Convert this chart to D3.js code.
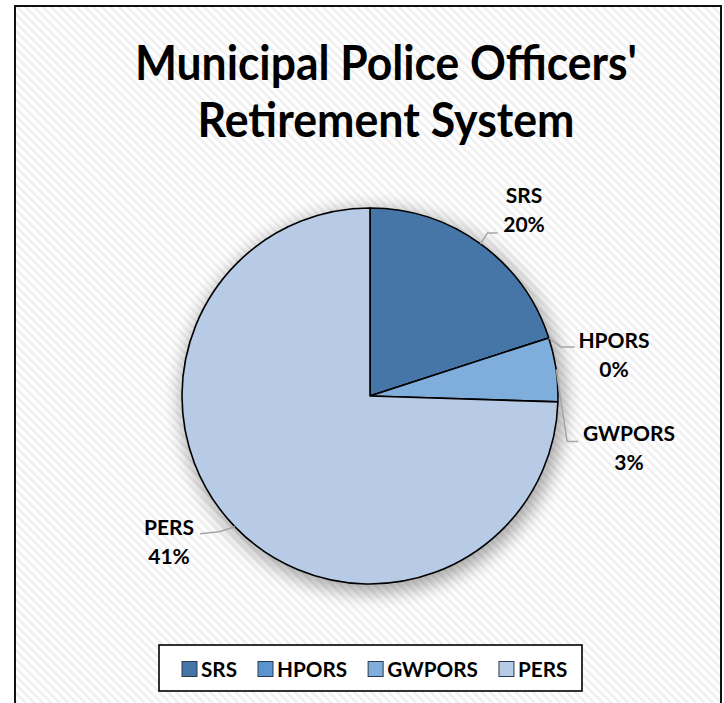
<!DOCTYPE html>
<html><head><meta charset="utf-8">
<script src="https://cdn.jsdelivr.net/npm/d3@7"></script>
<style>
html,body{margin:0;padding:0;background:#fff;}
svg{display:block;}
text{font-family:Lato,"Open Sans",sans-serif;font-weight:bold;fill:#000;}
</style></head>
<body>
<svg id="chart" width="724" height="703"></svg>
<script>
// ---- data ----
const titleLines = ["Municipal Police Officers'", "Retirement System"];
const categories = ["SRS", "HPORS", "GWPORS", "PERS"];
const sliceShares = [20, 0, 5.5, 74.5];          // share of the circle
const labelTexts = ["20%", "0%", "3%", "41%"];   // data labels as printed on the chart
const colors = ["#4676A8", "#5B95D0", "#80AEDC", "#B7CBE7"];

// ---- layout ----
const W = 724, H = 703;
const cx = 370, cy = 396, R = 188;
const labelLayout = [
  {bend:[7,-11], end:[17,-11], tx:524, ty:196},
  {bend:[12,9], end:[26,9], tx:614, ty:341},
  {bend:[11,72], end:[22,72], tx:629, ty:434},
  {bend:[-16,5], end:[-35,7], tx:169, ty:528}
];

const svg = d3.select("#chart");
const defs = svg.append("defs");
const pat = defs.append("pattern").attr("id","stripes").attr("patternUnits","userSpaceOnUse")
  .attr("width",6).attr("height",6).attr("patternTransform","rotate(-45)");
pat.append("rect").attr("width",6).attr("height",6).attr("fill","#ffffff");
pat.append("rect").attr("x",0).attr("y",0).attr("width",2.4).attr("height",6).attr("fill","#efefef");

const blur = defs.append("filter").attr("id","shadow").attr("x","-30%").attr("y","-30%").attr("width","160%").attr("height","160%");
blur.append("feGaussianBlur").attr("stdDeviation",9);

// background + frame
svg.append("rect").attr("x",0).attr("y",0).attr("width",W).attr("height",H).attr("fill","#fff");
svg.append("rect").attr("x",15).attr("y",6).attr("width",706).attr("height",720)
  .attr("fill","url(#stripes)").attr("stroke","#111").attr("stroke-width",2);

// title
const title = svg.append("g");
const titleWidths = [502, 377];
titleLines.forEach((t,i)=>{
  title.append("text").attr("x",386).attr("y",80 + i*57).attr("text-anchor","middle")
    .attr("font-size",47).attr("textLength",titleWidths[i]).attr("lengthAdjust","spacingAndGlyphs").text(t);
});

// pie
const pie = d3.pie().sort(null).value(d=>d)(sliceShares);
const arc = d3.arc().innerRadius(0).outerRadius(R);
const g = svg.append("g").attr("transform",`translate(${cx},${cy})`);
g.append("circle").attr("cx",3).attr("cy",5).attr("r",R+4).attr("fill","#000").attr("opacity",0.33).attr("filter","url(#shadow)");
g.selectAll("path.slice").data(pie).join("path").attr("class","slice")
  .attr("d",arc).attr("fill",(d,i)=>colors[i]).attr("stroke","#000").attr("stroke-width",1.6).attr("stroke-linejoin","round");

// labels and leader lines
pie.forEach((d,i)=>{
  const a = (d.startAngle + d.endAngle)/2;
  const ex = cx + R*Math.sin(a), ey = cy - R*Math.cos(a);
  const L = labelLayout[i];
  svg.append("polyline")
    .attr("points",[[ex,ey],[ex+L.bend[0],ey+L.bend[1]],[ex+L.end[0],ey+L.end[1]]].map(p=>p.join(",")).join(" "))
    .attr("fill","none").attr("stroke","#a6a6a6").attr("stroke-width",1.5);
  const t = svg.append("text").attr("text-anchor","middle").attr("font-size",21);
  t.append("tspan").attr("x",L.tx).attr("y",L.ty+7).text(categories[i]);
  t.append("tspan").attr("x",L.tx).attr("y",L.ty+36).text(labelTexts[i]);
});

// legend
const lg = svg.append("g");
lg.append("rect").attr("x",159).attr("y",645).attr("width",423).attr("height",46)
  .attr("fill","#fff").attr("stroke","#000").attr("stroke-width",1.6);
const items = lg.append("g");
let x = 0;
categories.forEach((c,i)=>{
  const it = items.append("g").attr("transform",`translate(${x},0)`);
  it.append("rect").attr("x",0).attr("y",-7.5).attr("width",15).attr("height",15)
    .attr("fill",colors[i]).attr("stroke","#2b3a4a").attr("stroke-width",1);
  const tx = it.append("text").attr("x",19).attr("y",7.5).attr("font-size",20.7).text(c);
  x += 19 + tx.node().getComputedTextLength() + 21;
});
items.attr("transform",`translate(182,669)`);
</script>
</body></html>
